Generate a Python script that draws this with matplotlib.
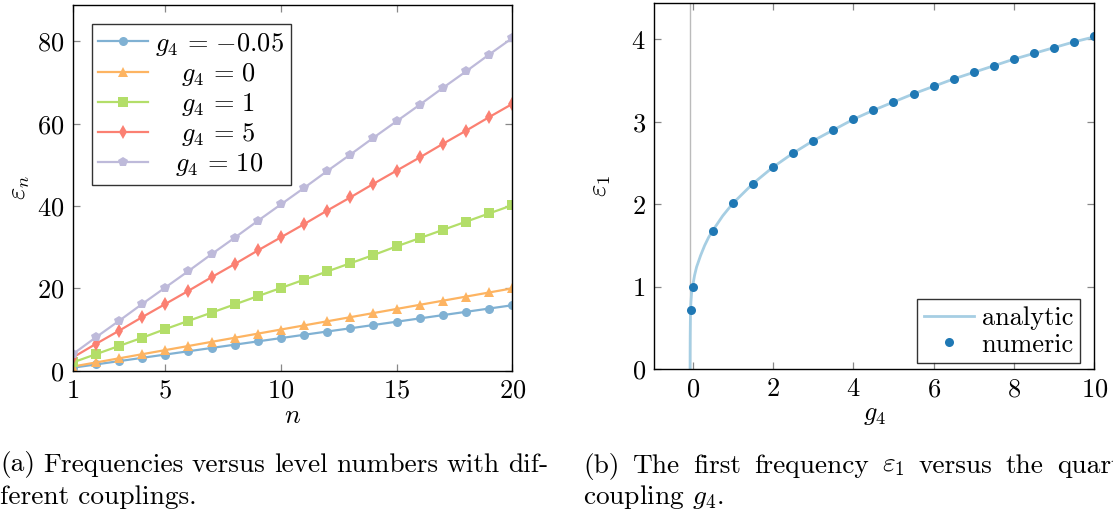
import matplotlib
matplotlib.use("Agg")
import matplotlib.pyplot as plt

# ---------------- data ----------------
n_levels = list(range(1, 21))
eps_gm005 = [0.72, 1.52, 2.32, 3.12, 3.92, 4.72, 5.52, 6.32, 7.12, 7.92,
             8.72, 9.52, 10.3, 11.1, 11.9, 12.7, 13.5, 14.3, 15.1, 15.9]
eps_g0 = [1, 2, 3, 4, 5, 6, 7, 8, 9, 10, 11, 12, 13, 14, 15, 16, 17, 18, 19, 20]
eps_g1 = [2.0, 4.0, 6.0, 8.0, 10.1, 12.1, 14.1, 16.1, 18.1, 20.1,
          22.1, 24.1, 26.1, 28.1, 30.2, 32.2, 34.2, 36.2, 38.2, 40.2]
eps_g5 = [3.2, 6.5, 9.7, 13.0, 16.2, 19.4, 22.7, 25.9, 29.2, 32.4,
          35.6, 38.9, 42.1, 45.4, 48.6, 51.8, 55.1, 58.3, 61.6, 64.8]
eps_g10 = [4.0, 8.1, 12.1, 16.2, 20.2, 24.2, 28.3, 32.3, 36.4, 40.4,
           44.4, 48.5, 52.5, 56.6, 60.6, 64.6, 68.7, 72.7, 76.8, 80.8]
series_labels = [r"$g_4 \,=\, {-}0.05$", r"$g_4 \,=\, 0$", r"$g_4 \,=\, 1$",
                 r"$g_4 \,=\, 5$", r"$g_4 \,=\, 10$"]

g4_numeric = [-0.05, 0.0, 0.5, 1.0, 1.5, 2.0, 2.5, 3.0, 3.5, 4.0, 4.5, 5.0,
              5.5, 6.0, 6.5, 7.0, 7.5, 8.0, 8.5, 9.0, 9.5, 10.0]
eps1_numeric = [0.72, 1.00, 1.68, 2.01, 2.25, 2.45, 2.62, 2.77, 2.90, 3.03, 3.14,
                3.24, 3.34, 3.43, 3.52, 3.60, 3.68, 3.76, 3.83, 3.90, 3.97, 4.04]
g4_analytic = [-0.062, -0.061, -0.059, -0.055, -0.05, -0.04, -0.025, 0.0, 0.05, 0.1,
               0.2, 0.3, 0.4, 0.5, 0.75, 1.0, 1.5, 2.0, 2.5, 3.0, 3.5, 4.0, 4.5,
               5.0, 5.5, 6.0, 6.5, 7.0, 7.5, 8.0, 8.5, 9.0, 9.5, 10.0]
eps1_analytic = [0.0, 0.2, 0.4, 0.58, 0.72, 0.82, 0.92, 1.00, 1.14, 1.24,
                 1.38, 1.50, 1.60, 1.68, 1.86, 2.01, 2.25, 2.45, 2.62, 2.77, 2.90, 3.03, 3.14,
                 3.24, 3.34, 3.43, 3.52, 3.60, 3.68, 3.76, 3.83, 3.90, 3.97, 4.03]
g4_critical = -0.062

left_xticks = [1, 5, 10, 15, 20]
left_yticks = [0, 20, 40, 60, 80]
right_xticks = [0, 2, 4, 6, 8, 10]
right_yticks = [0, 1, 2, 3, 4]

caption_a = ["(a) Frequencies versus level numbers with dif-", "ferent couplings."]
caption_b = [r"(b) The first frequency $\varepsilon_1$ versus the quartic", r"coupling $g_4$."]

# ---------------- style ----------------
plt.rcParams['font.family'] = 'serif'
plt.rcParams['font.serif'] = ['cmr10', 'DejaVu Serif']
plt.rcParams['mathtext.fontset'] = 'cm'
plt.rcParams['axes.formatter.use_mathtext'] = True
FS = 19
FS_CAP = 19.7

W, H = 1113, 520
fig = plt.figure(figsize=(W / 100, H / 100), dpi=100)

def px_axes(x0, y0, x1, y1):
    return fig.add_axes([x0 / W, 1 - y1 / H, (x1 - x0) / W, (y1 - y0) / H])

ax1 = px_axes(72.7, 4.7, 512.3, 370.7)
ax2 = px_axes(654, 3.3, 1094.3, 369.3)

for ax in (ax1, ax2):
    for sp in ax.spines.values():
        sp.set_linewidth(1.0)
        sp.set_color('black')
    ax.tick_params(direction='in', length=5, width=0.9, color='#888888',
                   top=True, right=True, labelsize=FS, pad=6)

colors = ['#80b1d3', '#fdb462', '#b3de69', '#fb8072', '#bebada']
markers = ['o', '^', 's', 'd', 'p']
msizes = [6.5, 7, 6.5, 7, 7.5]
series = [eps_gm005, eps_g0, eps_g1, eps_g5, eps_g10]
for vals, c, m, ms, lab in zip(series, colors, markers, msizes, series_labels):
    ax1.plot(n_levels, vals, color=c, marker=m, markersize=ms, linewidth=1.6,
             label=lab, markeredgewidth=0)
ax1.set_xlim(1, 20)
ax1.set_ylim(0, 88.9)
ax1.set_xticks(left_xticks)
ax1.set_yticks(left_yticks)
ax1.set_xlabel(r"$n$", fontsize=FS)
ax1.set_ylabel(r"$\varepsilon_n$", fontsize=FS)
ax1.xaxis.set_label_coords(0.5, -0.125)
ax1.xaxis.label.set_va('center')
ax1.yaxis.set_label_coords(-0.12, 0.5)
ax1.yaxis.label.set_va('center')

leg1 = ax1.legend(loc='upper left', bbox_to_anchor=((91.7 - 72.7) / 439.6, 1 - (24 - 4.7) / 366),
                  fontsize=FS, frameon=True, fancybox=False, edgecolor='black',
                  handlelength=1.9, handletextpad=0.25, borderpad=0.25, labelspacing=0.12,
                  borderaxespad=0)
leg1.get_frame().set_linewidth(1.0)
offsets = [0, 26, 26, 26, 20]
for t, off in zip(leg1.get_texts(), offsets):
    t.set_x(off)

ax2.axvline(g4_critical, color='#bbbbbb', linewidth=1.0)
ax2.plot(g4_analytic, eps1_analytic, color='#a6cee3', linewidth=2.0, label='analytic')
ax2.plot(g4_numeric, eps1_numeric, linestyle='none', marker='o', markersize=6.5,
         color='#1f78b4', markeredgewidth=0, label='numeric')
ax2.set_xlim(-0.96, 10)
ax2.set_ylim(0, 4.437)
ax2.set_xticks(right_xticks)
ax2.set_yticks(right_yticks)
ax2.set_xlabel(r"$g_4$", fontsize=FS)
ax2.set_ylabel(r"$\varepsilon_1$", fontsize=FS)
ax2.xaxis.set_label_coords(0.5, -0.125)
ax2.xaxis.label.set_va('center')
ax2.yaxis.set_label_coords(-0.12, 0.5)
ax2.yaxis.label.set_va('center')
leg2 = ax2.legend(loc='lower right', bbox_to_anchor=(1 - 14 / 440.3, 6 / 366),
                  fontsize=FS, frameon=True, fancybox=False, edgecolor='black',
                  handlelength=1.9, handletextpad=0.3, borderpad=0.25, labelspacing=0.12,
                  borderaxespad=0)
leg2.get_frame().set_linewidth(1.0)

# ---------------- captions (justified lines, like LaTeX subcaptions) ----------------
renderer = fig.canvas.get_renderer()

def justified_line(text, x0, yc, width):
    words = text.split(" ")
    arts = [fig.text(0, 1 - yc / H, w, fontsize=FS_CAP, ha='left', va='center') for w in words]
    widths = [a.get_window_extent(renderer).width for a in arts]
    gap = (width - sum(widths)) / max(len(words) - 1, 1)
    x = x0
    for a, w in zip(arts, widths):
        a.set_x(x / W)
        x += w + gap

def plain_line(text, x0, yc):
    fig.text(x0 / W, 1 - yc / H, text, fontsize=FS_CAP, ha='left', va='center')

justified_line(caption_a[0], 0, 465, 548)
plain_line(caption_a[1], 0, 497)
justified_line(caption_b[0], 583, 466, 558)   # runs past the figure edge as in the reference
plain_line(caption_b[1], 583, 497)

fig.savefig("out.png", dpi=100)
